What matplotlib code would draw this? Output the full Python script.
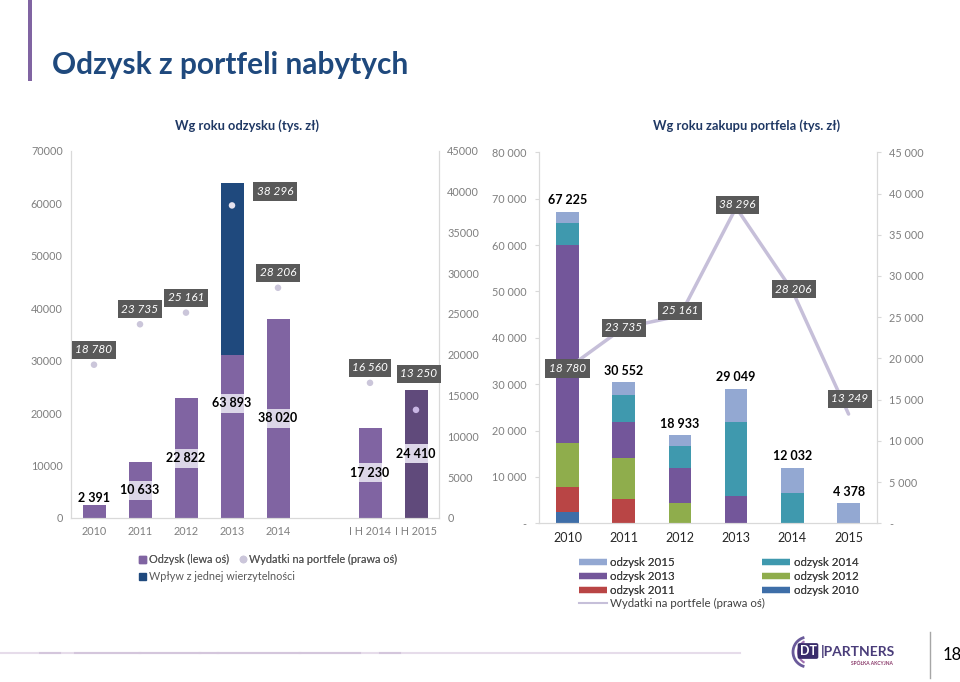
import numpy as np
import matplotlib
matplotlib.use("Agg")
import matplotlib.pyplot as plt
from matplotlib.patches import Rectangle, Patch, Arc
from matplotlib.lines import Line2D

plt.rcParams['font.family'] = ['Lato', 'DejaVu Sans']

# ---------------- data ----------------
left_categories = ["2010", "2011", "2012", "2013", "2014", "", "I H 2014", "I H 2015"]
odzysk_total = [2391, 10633, 22822, 63893, 38020, np.nan, 17230, 24410]
wplyw_jednej = [0, 0, 0, 32893, 0, np.nan, 0, 0]
wydatki_left = [18780, 23735, 25161, 38296, 28206, np.nan, 16560, 13250]

right_categories = ["2010", "2011", "2012", "2013", "2014", "2015"]
odzysk_2010 = [2391, 0, 0, 0, 0, 0]
odzysk_2011 = [5453, 5180, 0, 0, 0, 0]
odzysk_2012 = [9400, 8960, 4462, 0, 0, 0]
odzysk_2013 = [42790, 7790, 7410, 5900, 0, 0]
odzysk_2014 = [4740, 5680, 4880, 15950, 6610, 0]
odzysk_2015 = [2451, 2942, 2181, 7199, 5422, 4378]
wydatki_right = [18780, 23735, 25161, 38296, 28206, 13249]

# ---------------- style ----------------
W, H = 960, 682
PURPLE = "#8064a2"
DARKPURPLE = "#604a7b"
DARKBLUE = "#1f497d"
DOT = "#cbc6da"
LAV = "#dcd6e8"
GRAYBOX = "#595959"
AXIS = "#d9d9d9"
TICK = "#7f7f7f"
TITLE = "#1f3864"

def fmt(v):
    return f"{v:,.0f}".replace(",", " ")

def px_axes(x0, y0, x1, y1):
    return [x0 / W, 1 - y1 / H, (x1 - x0) / W, (y1 - y0) / H]

fig = plt.figure(figsize=(W / 100, H / 100), dpi=100)

# header
fig.patches.append(Rectangle((28 / W, 1 - 81 / H), 4 / W, 81 / H, transform=fig.transFigure,
                             color=PURPLE, lw=0))
fig.text(52 / W, 1 - 65 / H, "Odzysk z portfeli nabytych", fontsize=21.5, fontweight="bold",
         color="#1f497d", va="center", ha="left")
fig.text(246.7 / W, 1 - 126 / H, "Wg roku odzysku (tys. zł)", fontsize=9.3, fontweight="bold",
         color=TITLE, ha="center", va="center")
fig.text(747 / W, 1 - 126 / H, "Wg roku zakupu portfela (tys. zł)", fontsize=9.3, fontweight="bold",
         color=TITLE, ha="center", va="center")

# ---------------- left chart ----------------
ax = fig.add_axes(px_axes(71, 150.7, 439, 518))
x = np.arange(len(left_categories))
total = np.array(odzysk_total, dtype=float)
wplyw = np.array(wplyw_jednej, dtype=float)
base = total - wplyw
colors = [PURPLE] * len(x)
colors[-1] = DARKPURPLE
bw = 0.5
ax.bar(x, base, width=bw, color=colors, lw=0, zorder=2)
ax.bar(x, wplyw, bottom=base, width=bw, color=DARKBLUE, lw=0, zorder=2)
ax.set_xlim(-0.5, len(x) - 0.5)
ax.set_ylim(0, 70000)
ax.set_yticks(np.arange(0, 70001, 10000))
ax.set_xticks(x)
ax.set_xticklabels(left_categories)
ax.spines["top"].set_visible(False)
for s in ["left", "bottom", "right"]:
    ax.spines[s].set_color(AXIS)
ax.tick_params(axis="both", length=0, labelsize=7.8, labelcolor=TICK, pad=6)

# bar value labels with lavender band
band_h = 19 / 367.3 * 70000
for i, v in enumerate(total):
    if np.isnan(v):
        continue
    if i == 0:
        ax.annotate(fmt(v), (i, v), xytext=(0, 1), textcoords="offset points", ha="center",
                    va="bottom", fontsize=9, fontweight="bold", color="black", zorder=4)
        continue
    if left_categories[i] == "2013":
        y = 21900
    else:
        y = v / 2
    ax.add_patch(Rectangle((i - bw / 2, y - band_h / 2), bw, band_h, color=LAV, lw=0, zorder=3))
    ax.text(i, y, fmt(v), ha="center", va="center", fontsize=9, fontweight="bold",
            color="black", zorder=4)

ax2 = ax.twinx()
ax2.set_ylim(0, 45000)
ax2.set_yticks(np.arange(0, 45001, 5000))
ax2.tick_params(axis="y", length=0, labelsize=7.8, labelcolor=TICK, pad=6)
ax2.spines["top"].set_visible(False)
for s in ["left", "bottom", "right"]:
    ax2.spines[s].set_color(AXIS)
wl = np.array(wydatki_left, dtype=float)
dot_colors = [DOT] * len(x)
dot_colors[3] = "#e6e3ef"
dot_colors[-1] = "#c9b6e4"
ax2.scatter(x, wl, s=22, c=dot_colors, zorder=5, lw=0)
left_offsets = [(0, 10.8)] * len(x)
left_offsets[3] = (31, 10)
left_offsets[-1] = (2, 26)
for i, v in enumerate(wl):
    if np.isnan(v):
        continue
    ax2.annotate(fmt(v), (i, v), xytext=left_offsets[i], textcoords="offset points",
                 ha="center", va="center", fontsize=8.5, fontstyle="italic", color="white",
                 bbox=dict(boxstyle="square,pad=0.3", fc=GRAYBOX, ec="none"), zorder=6)

# left legend (two rows, flowing like the original)
leg_kw = dict(frameon=False, fontsize=7.8, labelcolor="#595959", handlelength=0.6,
              handleheight=0.6, handletextpad=0.3, borderpad=0, borderaxespad=0)
lh1 = [Patch(color=PURPLE, label="Odzysk (lewa oś)"),
       Line2D([], [], marker="o", ls="none", color=DOT, markersize=4.5,
              label="Wydatki na portfele (prawa oś)")]
lg1 = fig.legend(handles=lh1, loc="upper left", bbox_to_anchor=(139 / W, 1 - 554 / H), ncol=2,
                 columnspacing=1.0, **leg_kw)
fig.add_artist(lg1)
lh2 = [Patch(color=DARKBLUE, label="Wpływ z jednej wierzytelności")]
fig.legend(handles=lh2, loc="upper left", bbox_to_anchor=(139 / W, 1 - 571 / H), **leg_kw)

# ---------------- right chart ----------------
bx = fig.add_axes(px_axes(539.3, 152.3, 876.7, 523.3))
xr = np.arange(len(right_categories))
series = [("odzysk 2010", odzysk_2010, "#3e6ea8"),
          ("odzysk 2011", odzysk_2011, "#b94545"),
          ("odzysk 2012", odzysk_2012, "#8fad4c"),
          ("odzysk 2013", odzysk_2013, "#73569a"),
          ("odzysk 2014", odzysk_2014, "#3f99ae"),
          ("odzysk 2015", odzysk_2015, "#93a8d2")]
bottom = np.zeros(len(xr))
bwr = 0.4
handles = {}
for name, vals, col in series:
    vals = np.array(vals, dtype=float)
    bx.bar(xr, vals, bottom=bottom, width=bwr, color=col, lw=0, zorder=2)
    bottom += vals
    handles[name] = Line2D([], [], color=col, lw=4.5, solid_capstyle="butt", label=name)
for i, t in enumerate(bottom):
    bx.annotate(fmt(t), (i, t), xytext=(0, 8), textcoords="offset points", ha="center",
                va="center", fontsize=9, fontweight="bold", color="black")
bx.set_xlim(-0.5, len(xr) - 0.5)
bx.set_ylim(0, 80000)
yt = np.arange(0, 80001, 10000)
bx.set_yticks(yt)
bx.set_yticklabels(["-" if v == 0 else fmt(v) for v in yt])
bx.set_xticks(xr)
bx.set_xticklabels(right_categories)
bx.spines["top"].set_visible(False)
for s in ["left", "bottom", "right"]:
    bx.spines[s].set_color(AXIS)
bx.tick_params(axis="y", length=3, color=AXIS, labelsize=7.8, labelcolor=TICK, pad=6)
bx.tick_params(axis="x", length=0, labelsize=9, labelcolor="#262626", pad=6)

bx2 = bx.twinx()
bx2.set_ylim(0, 45000)
yt2 = np.arange(0, 45001, 5000)
bx2.set_yticks(yt2)
bx2.set_yticklabels(["-" if v == 0 else fmt(v) for v in yt2])
bx2.tick_params(axis="y", length=3, color=AXIS, labelsize=7.8, labelcolor=TICK, pad=6)
bx2.spines["top"].set_visible(False)
for s in ["left", "bottom", "right"]:
    bx2.spines[s].set_color(AXIS)
LINEC = "#c6bfd9"
bx2.plot(xr, wydatki_right, color=LINEC, lw=2.5, zorder=3, solid_capstyle="round")
right_offsets = [(0, 0), (0, 0), (0, 3.6), (1, 2), (1, 1), (1, 11)]
for i, v in enumerate(wydatki_right):
    bx2.annotate(fmt(v), (i, v), xytext=right_offsets[i], textcoords="offset points",
                 ha="center", va="center", fontsize=8.5, fontstyle="italic", color="white",
                 bbox=dict(boxstyle="square,pad=0.3", fc=GRAYBOX, ec="none"), zorder=6)
handles["wyd"] = Line2D([], [], color=LINEC, lw=1.5, label="Wydatki na portfele (prawa oś)")
rleg_kw = dict(frameon=False, fontsize=8.3, labelcolor="#404040", handlelength=2.4,
               handletextpad=0.3, labelspacing=0.28, borderpad=0, borderaxespad=0)
order = ["odzysk 2015", "odzysk 2013", "odzysk 2011", "odzysk 2014", "odzysk 2012",
         "odzysk 2010"]
rl1 = fig.legend(handles=[handles[k] for k in order], loc="upper left",
                 bbox_to_anchor=(579 / W, 1 - 557 / H), ncol=2, columnspacing=7.6, **rleg_kw)
fig.add_artist(rl1)
fig.legend(handles=[handles["wyd"]], loc="upper left",
           bbox_to_anchor=(579 / W, 1 - 597.5 / H), **rleg_kw)

# ---------------- footer ----------------
fig.add_artist(Line2D([0, 740 / W], [1 - 653 / H, 1 - 653 / H], transform=fig.transFigure,
                      color="#e6dcea", lw=1.5))
for a, b in [(40, 60), (75, 140), (140, 200), (200, 218), (218, 300), (300, 360), (380, 400)]:
    fig.add_artist(Line2D([a / W, b / W], [1 - 653 / H, 1 - 653 / H], transform=fig.transFigure,
                          color="#d4c6dc", lw=1.5))
fig.text(808 / W, 1 - 651 / H, "DT", fontsize=9, fontweight="bold", color="white",
         ha="center", va="center",
         bbox=dict(boxstyle="round,pad=0.15", fc="#3a2d6b", ec="none"))
fig.text(821 / W, 1 - 651 / H, "|PARTNERS", fontsize=10, fontweight="bold", color="#4a3d7a",
         ha="left", va="center")
fig.text(872 / W, 1 - 663 / H, "SPÓŁKA AKCYJNA", fontsize=3.5, fontweight="bold",
         color="#8a3a6a", ha="center", va="center")
fig.add_artist(Arc((808 / W, 1 - 652 / H), 30 / W, 30 / H, theta1=100, theta2=260,
                   transform=fig.transFigure, color="#6a5a9a", lw=2))
fig.add_artist(Arc((810 / W, 1 - 652 / H), 24 / W, 24 / H, theta1=110, theta2=250,
                   transform=fig.transFigure, color="#a070b0", lw=1.5))
fig.add_artist(Line2D([930 / W, 930 / W], [1 - 632 / H, 1 - 678 / H], transform=fig.transFigure,
                      color="#a6a6a6", lw=1))
fig.text(952 / W, 1 - 655 / H, "18", fontsize=12, color="black", ha="center", va="center")

fig.savefig("out.png", dpi=100)
